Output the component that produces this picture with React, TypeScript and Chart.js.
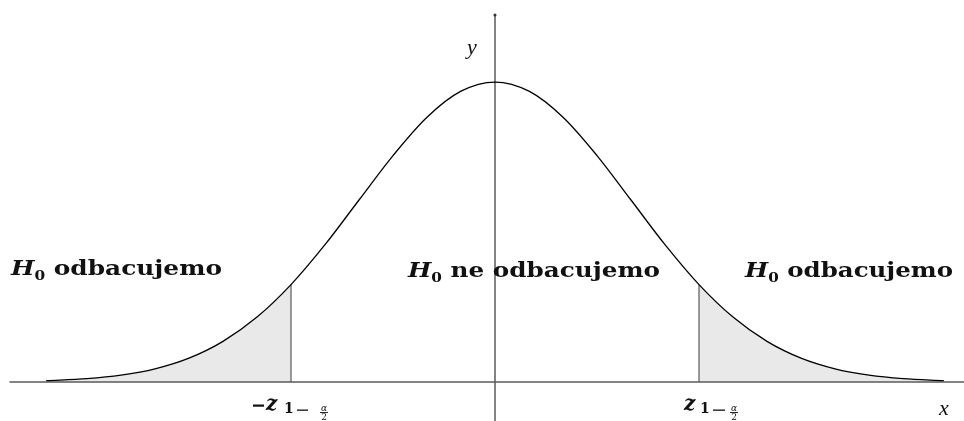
import React, { useEffect, useRef } from "react";
import { Chart, registerables } from "chart.js";

Chart.register(...registerables);

// Curve (standardised units)
const curveX = [-3.3, -3.0, -2.75, -2.5, -2.25, -2.0, -1.75, -1.5, -1.25, -1.0, -0.75, -0.5, -0.25, 0, 0.25, 0.5, 0.75, 1.0, 1.25, 1.5, 1.75, 2.0, 2.25, 2.5, 2.75, 3.0, 3.3];
const curveY = [0.0017, 0.0044, 0.0091, 0.0175, 0.0317, 0.054, 0.0863, 0.1295, 0.1826, 0.242, 0.3011, 0.3521, 0.3867, 0.3989, 0.3867, 0.3521, 0.3011, 0.242, 0.1826, 0.1295, 0.0863, 0.054, 0.0317, 0.0175, 0.0091, 0.0044, 0.0017];
const lowerCrit = -1.5;
const upperCrit = 1.5;
const critHeight = 0.1295;
const xAxisRange = [-3.57, 3.46];
const yAxisRange = [-0.06, 0.488];
const regionWord = "odbacujemo";
const middleWord = "ne odbacujemo";
const hypothesis = "H";
const hypSub = "0";
const axisX = "x";
const axisY = "y";

type Seg = { t: string; font: string; dy?: number };

function drawFit(ctx: CanvasRenderingContext2D, segs: Seg[], x: number, base: number, width: number) {
  let total = 0;
  const ws = segs.map((s) => {
    ctx.font = s.font;
    const w = ctx.measureText(s.t).width;
    total += w;
    return w;
  });
  const sx = width / total;
  ctx.save();
  ctx.translate(x, base);
  ctx.scale(sx, 1);
  let cx = 0;
  segs.forEach((s, i) => {
    ctx.font = s.font;
    ctx.fillText(s.t, cx, s.dy || 0);
    cx += ws[i];
  });
  ctx.restore();
}

const labelPlugin = {
  id: "labels",
  afterDraw(chart: any) {
    const ctx: CanvasRenderingContext2D = chart.ctx;
    ctx.save();
    ctx.fillStyle = "#111";
    ctx.textBaseline = "alphabetic";
    ctx.textAlign = "left";
    const big = "bold 21px 'DejaVu Serif'";
    const bigIt = "bold italic 21px 'DejaVu Serif'";
    const sub = "bold 13px 'DejaVu Serif'";
    const hyp = (rest: string): Seg[] => [
      { t: hypothesis, font: bigIt },
      { t: hypSub, font: sub, dy: 5 },
      { t: " " + rest, font: big },
    ];
    drawFit(ctx, hyp(regionWord), 11, 275, 211);
    drawFit(ctx, hyp(middleWord), 408, 277, 252);
    drawFit(ctx, hyp(regionWord), 745, 277, 208);

    // z labels: positions of minus, z, "1", small minus, fraction centre
    const zLabel = (mX: number | null, zX: number, oneX: number, smX: number, smW: number, fracX: number) => {
      const base = 410;
      if (mX !== null) ctx.fillRect(mX, base - 5.5, 11, 2.2);
      ctx.font = "bold italic 20px 'DejaVu Serif'";
      ctx.fillText("z", zX - 1, base);
      ctx.font = "bold 14px 'DejaVu Serif'";
      ctx.fillText("1", oneX - 1, base + 3);
      ctx.fillRect(smX, base - 0.5, smW, 1.3);
      ctx.textAlign = "center";
      ctx.font = "italic 9px 'DejaVu Serif'";
      ctx.fillText("\u03b1", fracX, base + 1);
      ctx.fillRect(fracX - 4, base + 2, 8, 0.9);
      ctx.font = "9px 'DejaVu Serif'";
      ctx.fillText("2", fracX, base + 10);
      ctx.textAlign = "left";
    };
    zLabel(253, 267, 285, 297, 11, 324);
    zLabel(null, 685, 701, 713, 12, 734);

    ctx.font = "italic 22px 'Liberation Serif'";
    ctx.textAlign = "center";
    ctx.fillText(axisY, 472, 54);
    ctx.fillText(axisX, 944, 415);
    ctx.restore();
  },
};

export default function App() {
  const ref = useRef<HTMLCanvasElement>(null);
  useEffect(() => {
    const pts = curveX.map((x, i) => ({ x, y: curveY[i] }));
    const leftTail = pts.filter((p) => p.x <= lowerCrit);
    const rightTail = pts.filter((p) => p.x >= upperCrit);
    const chart = new Chart(ref.current!, {
      type: "line",
      data: {
        datasets: [
          {
            data: pts,
            borderColor: "#000",
            borderWidth: 1.3,
            pointRadius: 0,
            cubicInterpolationMode: "monotone",
            fill: false,
            order: 0,
          },
          {
            data: [{ x: xAxisRange[0], y: 0 }, { x: xAxisRange[1], y: 0 }],
            borderColor: "#5a5a5a",
            borderWidth: 1.5,
            pointRadius: 0,
            fill: false,
            order: 1,
          },
          {
            data: [{ x: 0, y: yAxisRange[0] }, { x: 0, y: yAxisRange[1] }],
            borderColor: "#5a5a5a",
            borderWidth: 1.5,
            pointRadius: [0, 1.5],
            pointBackgroundColor: "#333",
            pointBorderWidth: 0,
            fill: false,
            order: 1,
          },
          {
            data: [{ x: lowerCrit, y: 0 }, { x: lowerCrit, y: critHeight }],
            borderColor: "#5a5a5a",
            borderWidth: 1.2,
            pointRadius: 0,
            fill: false,
            order: 2,
          },
          {
            data: [{ x: upperCrit, y: 0 }, { x: upperCrit, y: critHeight }],
            borderColor: "#5a5a5a",
            borderWidth: 1.2,
            pointRadius: 0,
            fill: false,
            order: 2,
          },
          {
            data: leftTail,
            borderWidth: 0,
            borderColor: "rgba(0,0,0,0)",
            backgroundColor: "#e9e9e9",
            pointRadius: 0,
            cubicInterpolationMode: "monotone",
            fill: "origin",
            order: 3,
          },
          {
            data: rightTail,
            borderWidth: 0,
            borderColor: "rgba(0,0,0,0)",
            backgroundColor: "#e9e9e9",
            pointRadius: 0,
            cubicInterpolationMode: "monotone",
            fill: "origin",
            order: 3,
          },
        ],
      },
      options: {
        animation: false,
        responsive: false,
        layout: { padding: 0, autoPadding: false },
        plugins: { legend: { display: false }, tooltip: { enabled: false } },
        scales: {
          x: { type: "linear", display: false, min: -495 / 136, max: 469 / 136 },
          y: { type: "linear", display: false, min: -39 / 752, max: 382 / 752 },
        },
      },
      plugins: [labelPlugin],
    });
    return () => chart.destroy();
  }, []);
  return (
    <div style={{ position: "fixed", left: 0, top: 0, width: 964, height: 421, background: "#fff" }}>
      <canvas ref={ref} width={964} height={421} style={{ width: 964, height: 421 }} />
    </div>
  );
}
